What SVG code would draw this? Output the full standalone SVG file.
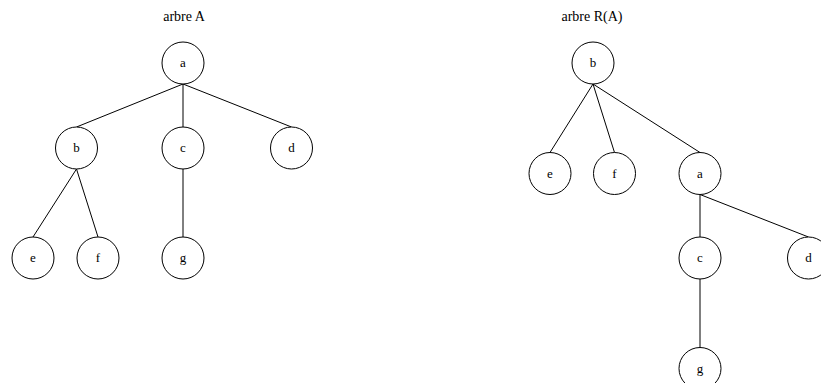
<svg xmlns="http://www.w3.org/2000/svg" width="821" height="383" viewBox="0 0 821 383">
<style>
.node circle{fill:#fff;stroke:#000;stroke-width:1}
.node text,.title{font-family:"Liberation Serif","Times New Roman",serif;fill:#000;text-anchor:middle}
.node text{font-size:13px}
.title{font-size:14px}
#edges line{stroke:#000;stroke-width:1}
</style>
<rect width="821" height="383" fill="#fff"/>
<text class="title" x="184" y="21">arbre A</text>
<text class="title" x="592" y="21">arbre R(A)</text>
<g id="edges">
<line x1="183" y1="84" x2="76.5" y2="127"/>
<line x1="183" y1="84" x2="183" y2="127"/>
<line x1="183" y1="84" x2="291.5" y2="127"/>
<line x1="76.5" y1="169" x2="33" y2="237"/>
<line x1="76.5" y1="169" x2="98" y2="237"/>
<line x1="183" y1="169" x2="183" y2="237"/>
<line x1="593" y1="84" x2="550" y2="152.5"/>
<line x1="593" y1="84" x2="614.5" y2="152.5"/>
<line x1="593" y1="84" x2="700" y2="152.5"/>
<line x1="700" y1="194.5" x2="700" y2="237"/>
<line x1="700" y1="194.5" x2="808.5" y2="237"/>
<line x1="700" y1="279" x2="700" y2="347.5"/>
</g>
<g id="A_a" class="node"><circle cx="183" cy="63" r="21"/><text x="183" y="67">a</text></g>
<g id="A_b" class="node"><circle cx="76.5" cy="148" r="21"/><text x="76.5" y="152">b</text></g>
<g id="A_c" class="node"><circle cx="183" cy="148" r="21"/><text x="183" y="152">c</text></g>
<g id="A_d" class="node"><circle cx="291.5" cy="148" r="21"/><text x="291.5" y="152">d</text></g>
<g id="A_e" class="node"><circle cx="33" cy="258" r="21"/><text x="33" y="262">e</text></g>
<g id="A_f" class="node"><circle cx="98" cy="258" r="21"/><text x="98" y="262">f</text></g>
<g id="A_g" class="node"><circle cx="183" cy="258" r="21"/><text x="183" y="262">g</text></g>
<g id="R_b" class="node"><circle cx="593" cy="63" r="21"/><text x="593" y="67">b</text></g>
<g id="R_e" class="node"><circle cx="550" cy="173.5" r="21"/><text x="550" y="177.5">e</text></g>
<g id="R_f" class="node"><circle cx="614.5" cy="173.5" r="21"/><text x="614.5" y="177.5">f</text></g>
<g id="R_a" class="node"><circle cx="700" cy="173.5" r="21"/><text x="700" y="177.5">a</text></g>
<g id="R_c" class="node"><circle cx="700" cy="258" r="21"/><text x="700" y="262">c</text></g>
<g id="R_d" class="node"><circle cx="808.5" cy="258" r="21"/><text x="808.5" y="262">d</text></g>
<g id="R_g" class="node"><circle cx="700" cy="368.5" r="21"/><text x="700" y="372.5">g</text></g>
</svg>
